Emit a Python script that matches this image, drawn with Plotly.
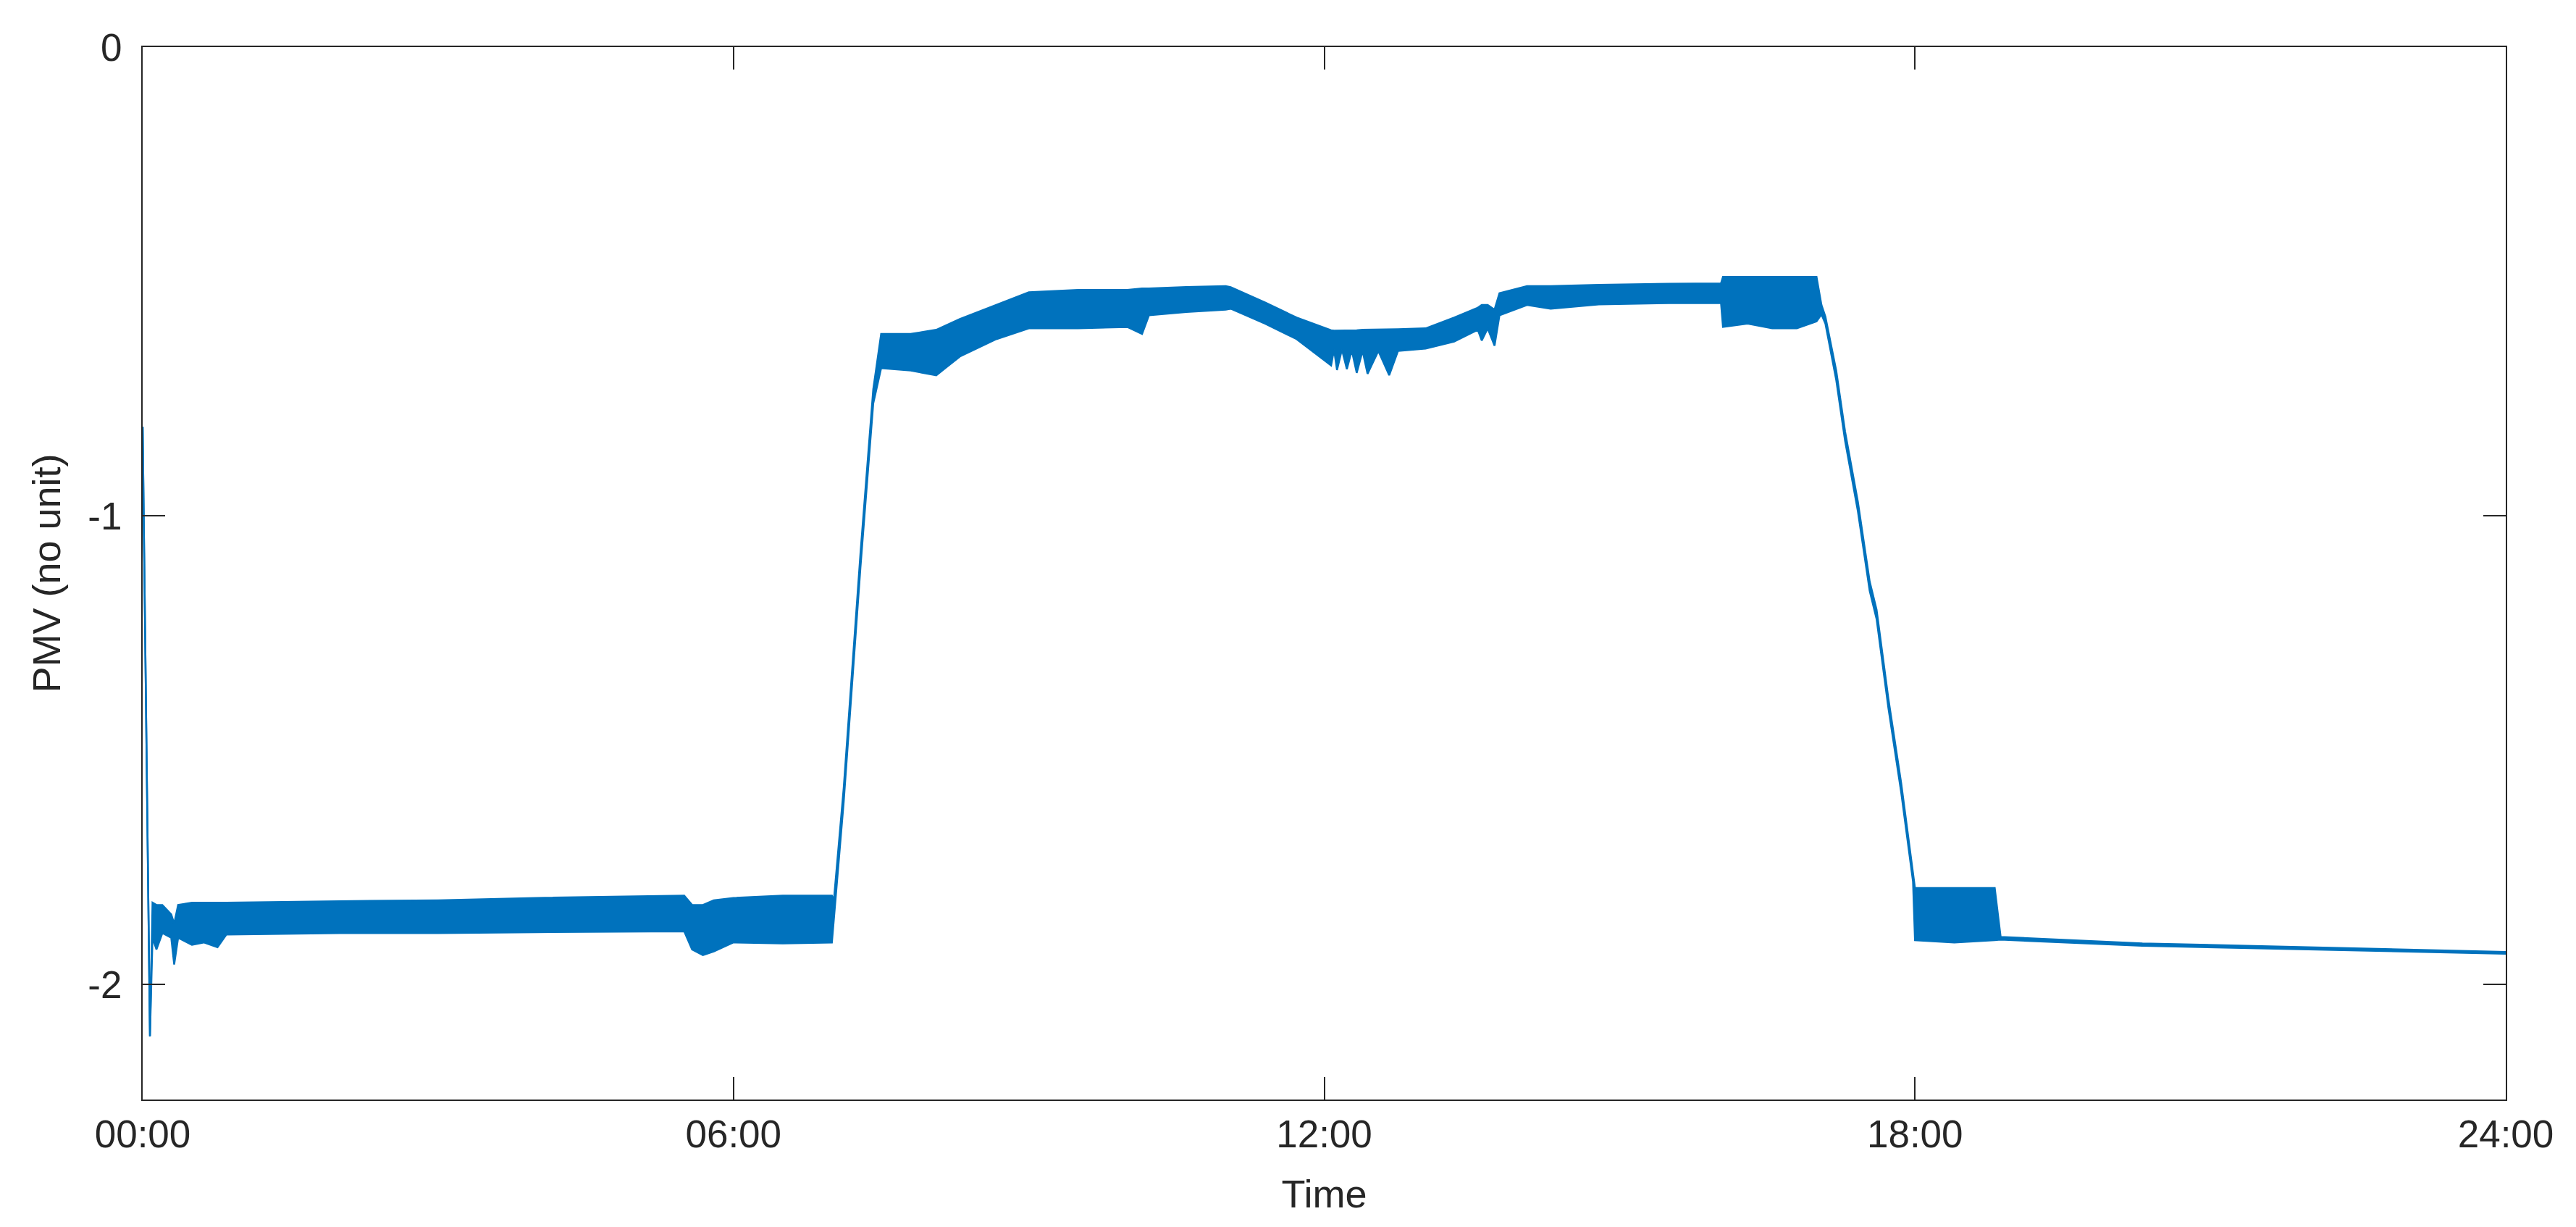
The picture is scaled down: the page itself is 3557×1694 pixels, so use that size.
import plotly.graph_objects as go

# PMV over one day (hours, upper / lower edge of the trace)
hours = [0.0, 0.074, 0.10, 0.14, 0.20, 0.29, 0.32, 0.36, 0.50, 0.62, 0.76, 0.85,
         2.0, 3.0, 4.0, 5.0, 5.5, 5.58, 5.69, 5.80, 6.0, 6.5, 7.0,
         7.02, 7.12, 7.29, 7.42, 7.5, 7.8, 8.06, 8.3, 8.67, 9.0, 9.5, 10.0,
         10.15, 10.22, 10.6, 11.0, 11.05, 11.4, 11.72,
         12.07, 12.10, 12.13, 12.18, 12.23, 12.28, 12.33, 12.39, 12.44, 12.55, 12.66, 12.75,
         13.03, 13.32, 13.56, 13.60, 13.66, 13.73, 13.78, 14.06, 14.3, 14.79, 15.5, 16.03,
         16.05, 16.3, 16.55, 16.8, 17.0,
         17.05, 17.09, 17.2, 17.29, 17.42, 17.54, 17.61, 17.73, 17.86, 17.98,
         18.0, 18.4, 18.81, 18.87, 20.31, 24.0]

pmv_upper = [-0.81, -2.11, -1.825, -1.83, -1.83, -1.85, -1.87, -1.83, -1.825, -1.825, -1.825, -1.825,
             -1.822, -1.82, -1.815, -1.812, -1.81, -1.83, -1.83, -1.82, -1.815, -1.81, -1.81,
             -1.82, -1.58, -1.08, -0.73, -0.612, -0.612, -0.603, -0.58, -0.55, -0.523, -0.518, -0.518,
             -0.515, -0.515, -0.512, -0.510, -0.512, -0.545, -0.577,
             -0.604, -0.605, -0.605, -0.605, -0.605, -0.604, -0.604, -0.603, -0.603, -0.603, -0.603, -0.602,
             -0.600, -0.577, -0.556, -0.55, -0.55, -0.56, -0.525, -0.51, -0.51, -0.507, -0.505, -0.504,
             -0.49, -0.49, -0.49, -0.49, -0.49,
             -0.55, -0.575, -0.69, -0.82, -0.97, -1.14, -1.20, -1.39, -1.57, -1.76,
             -1.794, -1.794, -1.794, -1.898, -1.912, -1.93]

pmv_lower = [-0.81, -2.11, -1.90, -1.925, -1.89, -1.90, -1.957, -1.90, -1.915, -1.91, -1.92, -1.893,
             -1.89, -1.89, -1.888, -1.886, -1.886, -1.925, -1.937, -1.929, -1.91, -1.912, -1.91,
             -1.86, -1.61, -1.11, -0.76, -0.685, -0.69, -0.70, -0.66, -0.623, -0.60, -0.60, -0.597,
             -0.612, -0.572, -0.565, -0.56, -0.558, -0.59, -0.623,
             -0.679, -0.645, -0.689, -0.645, -0.687, -0.647, -0.695, -0.648, -0.697, -0.648, -0.70, -0.648,
             -0.643, -0.628, -0.603, -0.626, -0.60, -0.637, -0.572, -0.55, -0.558, -0.549, -0.546, -0.546,
             -0.597, -0.59, -0.60, -0.60, -0.585,
             -0.57, -0.59, -0.71, -0.84, -0.99, -1.16, -1.22, -1.41, -1.59, -1.78,
             -1.905, -1.91, -1.905, -1.904, -1.917, -1.934]

x_ticks = [0, 6, 12, 18, 24]
x_labels = ["00:00", "06:00", "12:00", "18:00", "24:00"]
y_ticks = [-2, -1, 0]
y_labels = ["-2", "-1", "0"]

blue = "#0072BD"
ink = "#262626"
font = "Liberation Sans, Arial, sans-serif"

fig = go.Figure()
fig.add_trace(go.Scatter(x=hours, y=pmv_upper, mode="lines",
                         line=dict(color=blue, width=2.5), showlegend=False))
fig.add_trace(go.Scatter(x=hours, y=pmv_lower, mode="lines", fill="tonexty",
                         fillcolor=blue, line=dict(color=blue, width=2.5), showlegend=False))

axis_common = dict(showline=True, linecolor=ink, linewidth=2, mirror="ticks",
                   ticks="inside", ticklen=31, tickwidth=2, tickcolor=ink,
                   showgrid=False, zeroline=False,
                   tickfont=dict(family=font, size=53, color=ink))

fig.update_layout(
    width=3557, height=1694,
    margin=dict(l=189, r=105, t=57, b=184),
    paper_bgcolor="white", plot_bgcolor="white",
    xaxis=dict(range=[0, 24], tickvals=x_ticks, ticktext=x_labels,
               ticklabelstandoff=0,
               title=dict(text="Time", font=dict(family=font, size=54, color=ink), standoff=36),
               **axis_common),
    yaxis=dict(range=[-2.245, 0], tickvals=y_ticks, ticktext=y_labels,
               ticklabelstandoff=16,
               title=dict(text="PMV (no unit)", font=dict(family=font, size=54, color=ink), standoff=20),
               **axis_common),
)

fig.write_html("out.html")
